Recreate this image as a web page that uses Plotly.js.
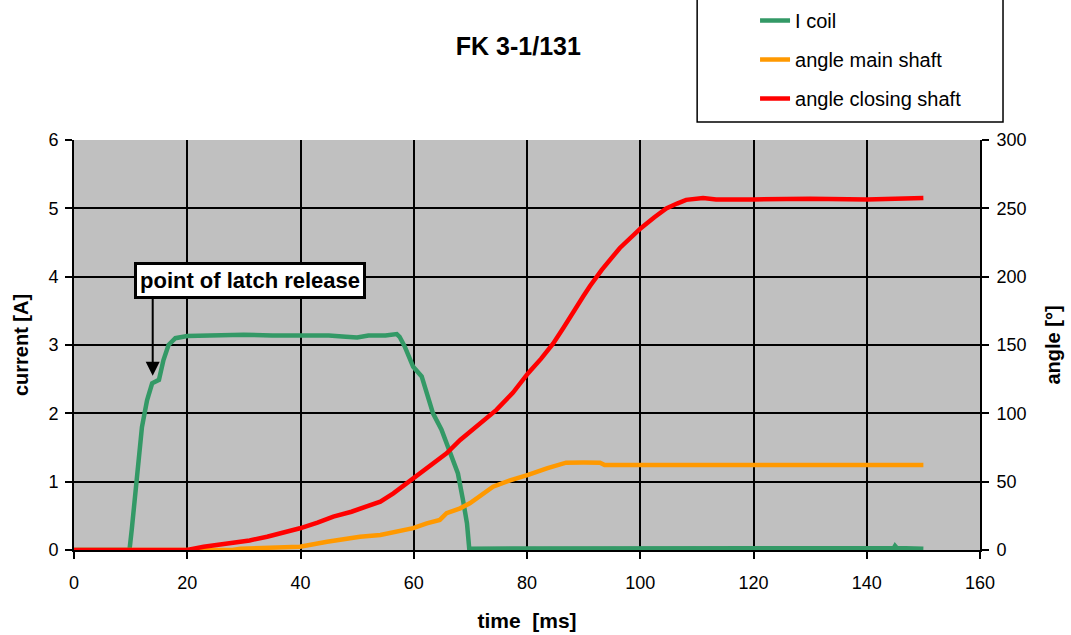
<!DOCTYPE html>
<html>
<head>
<meta charset="utf-8">
<script src="https://cdn.plot.ly/plotly-3.0.1.min.js"></script>
<style>html,body{margin:0;padding:0;background:#fff;}#chart{width:1071px;height:635px;}</style>
</head>
<body>
<div id="chart"></div>
<script>
// I coil [A] vs time [ms]
const coilT = [0,9.8,10.2,11.1,12.0,12.9,13.8,15.0,15.8,16.7,17.9,20,25,30,35,40,45,48,50,52,55,57,57.5,58.4,59.9,61.4,62.0,63.4,64.9,66.4,67.8,68.7,69.4,69.8,75,78,80,100,120,140,144.8,145,145.3,150];
const coilA = [0,0,0.3,1.12,1.80,2.19,2.44,2.49,2.78,3.0,3.10,3.13,3.14,3.15,3.14,3.14,3.14,3.12,3.11,3.14,3.14,3.16,3.12,2.98,2.68,2.54,2.39,2.0,1.76,1.42,1.12,0.73,0.39,0.02,0.02,0.03,0.03,0.03,0.03,0.03,0.03,0.06,0.03,0.02];

// angle main shaft [deg]
const mainT = [0,28,29.4,35,39.9,44.7,50.5,54.1,56.4,59.9,62.3,64.6,65.8,68.2,69.9,72,74.0,77,80.2,83.5,86.9,90,92.9,93.7,100,120,140,150];
const mainDeg = [0,0,1,1.5,2.4,6,9.7,11,13,16,19.5,22,26.9,30.5,34.2,40,46.3,51,54.9,59.8,63.9,64,63.9,62.2,62.2,62.2,62.2,62.2];

// angle closing shaft [deg]
const closeT = [0,20,22.9,25,28.2,31,34.1,37,39.9,43,45.8,49,51.7,54.1,56.4,59.9,62,64.1,65.8,68.2,71.7,74.6,77.5,80.2,82.5,84.6,86.5,88.1,90,91.1,93.2,96.4,100.1,102.5,104.6,106.5,108.1,111.1,113.4,120,130,140,145,150];
const closeDeg = [0,0,2.4,3.5,4.9,7,9.7,12.5,15.9,20,24.4,28,31.7,35.4,41.5,52.5,59,65.9,70.8,80.5,92.8,102.5,115,129.4,140,151,163,174,186,193,205,221,235.5,243.5,250,253.5,256.2,257.5,256.5,256.5,257,256.5,257,257.5];

const xTicks = [0,20,40,60,80,100,120,140,160];
const yTicks = [0,1,2,3,4,5,6];
const y2Ticks = [0,50,100,150,200,250,300];

const FONT = 'Liberation Sans, Arial, sans-serif';

const traces = [
  {x: coilT, y: coilA, name: 'I coil', type: 'scatter', mode: 'lines',
   line: {color: '#339966', width: 4.5}, legendgroup: 'a', yaxis: 'y'},
  {x: mainT, y: mainDeg, name: 'angle main shaft', type: 'scatter', mode: 'lines',
   line: {color: '#FF9900', width: 4.5}, legendgroup: 'b', yaxis: 'y2'},
  {x: closeT, y: closeDeg, name: 'angle closing shaft', type: 'scatter', mode: 'lines',
   line: {color: '#FF0000', width: 4.5}, legendgroup: 'c', yaxis: 'y2'}
];

const layout = {
  width: 1071, height: 635,
  margin: {l: 74, r: 91, t: 140, b: 85, pad: 0, autoexpand: false},
  paper_bgcolor: '#ffffff',
  plot_bgcolor: '#c0c0c0',
  font: {family: FONT, size: 17, color: '#000'},
  title: {text: '<b>FK 3-1/131</b>', font: {family: FONT, size: 25, color: '#000'},
          x: 0.484, xanchor: 'center', y: 0.927, yanchor: 'middle'},
  showlegend: true,
  legend: {x: 0.7517, xanchor: 'left', y: 1.339, yanchor: 'top',
           bgcolor: 'rgba(0,0,0,0)', borderwidth: 0,
           font: {family: FONT, size: 20, color: '#000'},
           traceorder: 'grouped', tracegroupgap: 10},
  xaxis: {range: [0, 160], tickvals: xTicks, ticktext: xTicks.map(String),
          showgrid: true, gridcolor: '#000', gridwidth: 2,
          showline: true, linecolor: '#000', linewidth: 2,
          ticks: 'outside', ticklen: 7, tickcolor: '#000', tickwidth: 2,
          ticklabelstandoff: 8,
          zeroline: false, fixedrange: true,
          tickfont: {family: FONT, size: 18, color: '#000'},
          title: {text: '<b>time  [ms]</b>', font: {family: FONT, size: 21, color: '#000'}, standoff: 22}},
  yaxis: {range: [0, 6], tickvals: yTicks, ticktext: yTicks.map(String),
          showgrid: true, gridcolor: '#000', gridwidth: 2,
          showline: true, linecolor: '#000', linewidth: 2,
          ticks: 'outside', ticklen: 7, tickcolor: '#000', tickwidth: 2,
          ticklabelstandoff: 3,
          zeroline: false, fixedrange: true,
          tickfont: {family: FONT, size: 18, color: '#000'},
          title: {text: '<b>current [A]</b>', font: {family: FONT, size: 20, color: '#000'}, standoff: 14}},
  yaxis2: {range: [0, 300], tickvals: y2Ticks, ticktext: y2Ticks.map(String),
          overlaying: 'y', side: 'right', showgrid: false,
          showline: true, linecolor: '#000', linewidth: 2,
          ticks: 'outside', ticklen: 7, tickcolor: '#000', tickwidth: 2,
          ticklabelstandoff: 4,
          zeroline: false, fixedrange: true,
          tickfont: {family: FONT, size: 18, color: '#000'},
          title: {text: '<b>angle [°]</b>', font: {family: FONT, size: 20, color: '#000'}, standoff: 20}},
  shapes: [
    {type: 'rect', xref: 'paper', yref: 'paper', x0: 0.6878, x1: 1.0254, y0: 1.0439, y1: 1.40,
     line: {color: '#000', width: 1.5}, fillcolor: 'rgba(0,0,0,0)'}
  ],
  annotations: [
    {x: 31.0, y: 3.94, xref: 'x', yref: 'y', text: '<b>point of latch release</b>',
     showarrow: false, font: {family: FONT, size: 22, color: '#000'},
     bgcolor: '#ffffff', bordercolor: '#000', borderwidth: 3, borderpad: 3},
    {x: 13.9, y: 2.55, xref: 'x', yref: 'y', ax: 13.9, ay: 3.70, axref: 'x', ayref: 'y',
     text: '', showarrow: true, arrowhead: 2, arrowsize: 1.4, arrowwidth: 2, arrowcolor: '#000'}
  ]
};

Plotly.newPlot('chart', traces, layout, {displayModeBar: false, staticPlot: true});
</script>
</body>
</html>
